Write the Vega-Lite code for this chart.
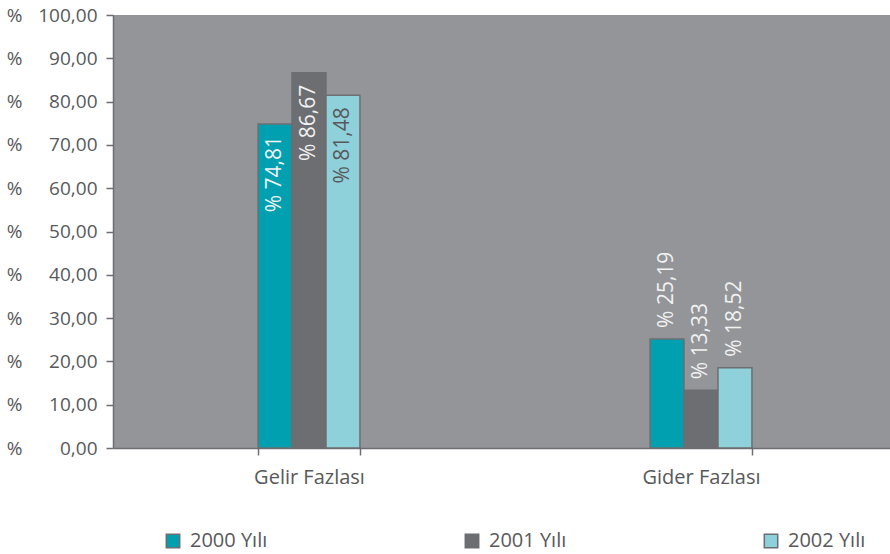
{
  "$schema": "https://vega.github.io/schema/vega-lite/v6.json",
  "autosize": "none",
  "width": 784,
  "height": 433,
  "padding": {"left": 113, "top": 15, "right": 0, "bottom": 106},
  "background": "#ffffff",
  "config": {
    "font": "Open Sans",
    "view": {"fill": "#939598", "stroke": null},
    "axis": {"domainColor": "#6d6e71", "tickColor": "#6d6e71", "domainWidth": 1.5, "tickWidth": 1.5, "grid": false, "labelColor": "#58595b", "labelFont": "Open Sans", "labelFontSize": 16, "title": null}
  },
  "data": {
    "values": [
      {"kategori": "Gelir Fazlası", "yil": "2000 Yılı", "deger": 74.81, "etiket": "% 74,81"},
      {"kategori": "Gelir Fazlası", "yil": "2001 Yılı", "deger": 86.67, "etiket": "% 86,67"},
      {"kategori": "Gelir Fazlası", "yil": "2002 Yılı", "deger": 81.48, "etiket": "% 81,48"},
      {"kategori": "Gider Fazlası", "yil": "2000 Yılı", "deger": 25.19, "etiket": "% 25,19"},
      {"kategori": "Gider Fazlası", "yil": "2001 Yılı", "deger": 13.33, "etiket": "% 13,33"},
      {"kategori": "Gider Fazlası", "yil": "2002 Yılı", "deger": 18.52, "etiket": "% 18,52"}
    ]
  },
  "encoding": {
    "x": {
      "field": "kategori", "type": "nominal", "sort": null,
      "scale": {"paddingInner": 0.74, "paddingOuter": 0.37},
      "axis": {"labelAngle": 0, "labelFontSize": 20, "tickBand": "extent", "tickSize": 7, "labelPadding": 12}
    },
    "xOffset": {"field": "yil", "type": "nominal", "sort": null},
    "y": {
      "field": "deger", "type": "quantitative",
      "scale": {"domain": [0, 100], "nice": false},
      "axis": {
        "values": [0, 10, 20, 30, 40, 50, 60, 70, 80, 90, 100],
        "tickSize": 7, "labelPadding": 9, "labelFontSize": 19,
        "labelExpr": "'% \u2007' + pad(replace(format(datum.value, '.2f'), '.', ','), 6, '\u2007', 'left')"
      }
    }
  },
  "layer": [
    {
      "mark": {"type": "bar", "stroke": "#6d6e71", "strokeWidth": 1.5},
      "encoding": {
        "color": {
          "field": "yil", "type": "nominal", "sort": null,
          "scale": {"domain": ["2000 Yılı", "2001 Yılı", "2002 Yılı"], "range": ["#00a0b0", "#6d6e71", "#8fd1db"]},
          "legend": {
            "title": null, "orient": "none", "direction": "horizontal", "columns": 3,
            "legendX": 50, "legendY": 516, "columnPadding": 194,
            "symbolType": "square", "symbolSize": 180, "symbolStrokeColor": "#6d6e71", "symbolStrokeWidth": 1.5,
            "labelFontSize": 20, "labelColor": "#58595b", "labelOffset": 7
          }
        }
      }
    },
    {
      "transform": [{"filter": "datum.kategori === 'Gelir Fazlası'"}],
      "mark": {"type": "text", "angle": 270, "align": "right", "baseline": "middle", "dx": -12, "fontSize": 21, "font": "Open Sans"},
      "encoding": {
        "text": {"field": "etiket"},
        "color": {"condition": {"test": "datum.yil === '2002 Yılı'", "value": "#58595b"}, "value": "#f1f2f2"}
      }
    },
    {
      "transform": [{"filter": "datum.kategori === 'Gider Fazlası'"}],
      "mark": {"type": "text", "angle": 270, "align": "left", "baseline": "middle", "dx": 11, "fontSize": 21, "font": "Open Sans", "color": "#f1f2f2"},
      "encoding": {
        "text": {"field": "etiket"}
      }
    }
  ]
}
